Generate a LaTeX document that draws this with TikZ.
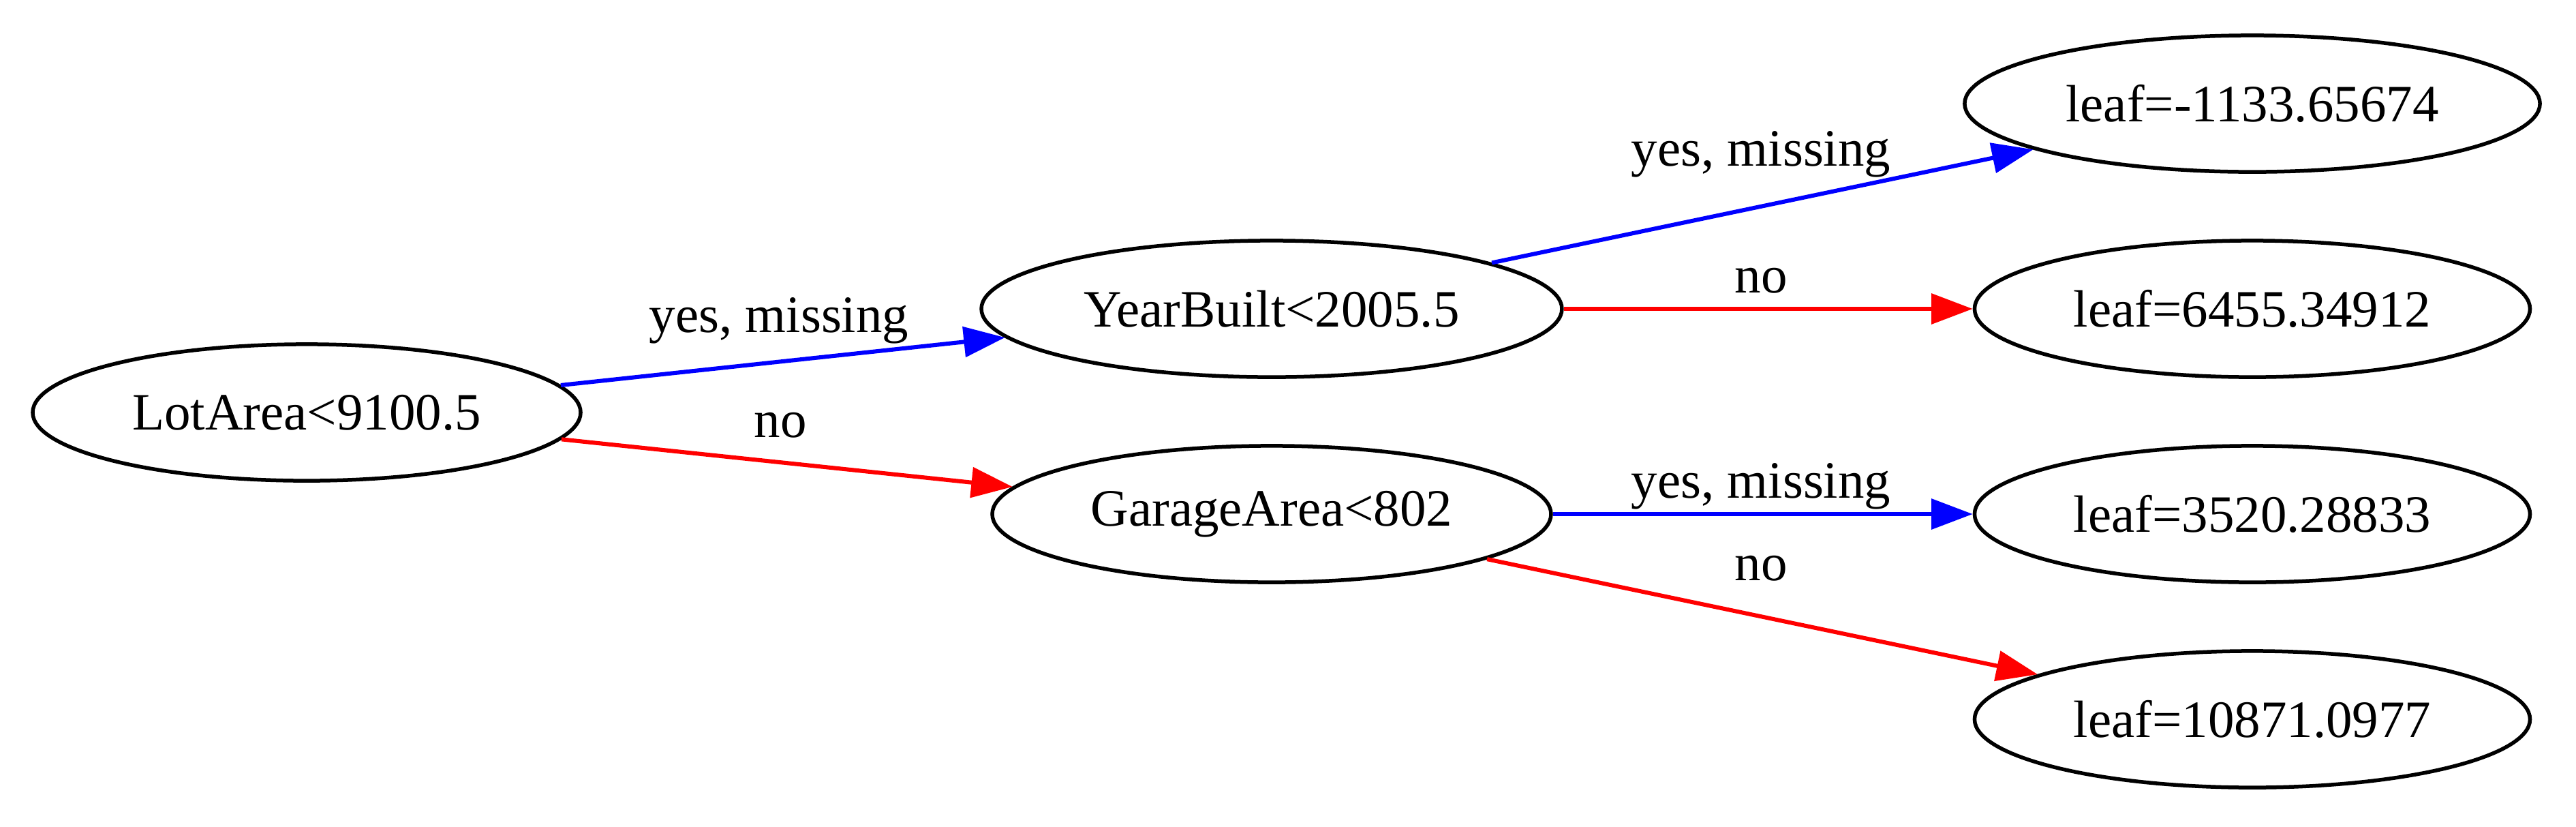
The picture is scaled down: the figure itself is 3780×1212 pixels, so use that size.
\documentclass[tikz,border=0pt]{standalone}
\usepackage{fontspec}
\setmainfont{Liberation Serif}
\usetikzlibrary{shapes.geometric,arrows.meta}
\begin{document}
\begin{tikzpicture}[x=0.181818pt,y=-0.181818pt,
  every node/.style={font=\fontsize{14pt}{16.8pt}\selectfont},
  treenode/.style={ellipse,draw=black,line width=1pt,inner sep=0pt,minimum height=36.4pt},
  edgelabel/.style={anchor=base,inner sep=0pt},
  yesedge/.style={draw={rgb,255:red,0;green,0;blue,255},line width=1.1pt,-{Triangle[length=11pt,width=8pt]}},
  noedge/.style={draw={rgb,255:red,255;green,0;blue,0},line width=1.1pt,-{Triangle[length=11pt,width=8pt]}}
]
\useasboundingbox (0,0) rectangle (3780,1212);
\node[treenode,minimum width=146.2pt] (lot) at (450,605) {LotArea<9100.5};
\node[treenode,minimum width=154.9pt] (yb) at (1866,453) {YearBuilt<2005.5};
\node[treenode,minimum width=149.1pt] (ga) at (1866,754) {GarageArea<802};
\node[treenode,minimum width=153.5pt] (l1) at (3305,152) {leaf=-1133.65674};
\node[treenode,minimum width=148.2pt] (l2) at (3305,453) {leaf=6455.34912};
\node[treenode,minimum width=148.2pt] (l3) at (3305,754) {leaf=3520.28833};
\node[treenode,minimum width=148.2pt] (l4) at (3305,1055) {leaf=10871.0977};
\draw[yesedge] (lot) -- (yb);
\draw[noedge] (lot) -- (ga);
\draw[yesedge] (yb) -- (l1);
\draw[noedge] (yb) -- (l2);
\draw[yesedge] (ga) -- (l3);
\draw[noedge] (ga) -- (l4);
\node[edgelabel] (t1) at (1143,487) {yes, missing};
\node[edgelabel] (t2) at (1145,641) {no};
\node[edgelabel] (t3) at (2584,243) {yes, missing};
\node[edgelabel] (t4) at (2584,429) {no};
\node[edgelabel] (t5) at (2584,730) {yes, missing};
\node[edgelabel] (t6) at (2584,851) {no};
\end{tikzpicture}
\end{document}
